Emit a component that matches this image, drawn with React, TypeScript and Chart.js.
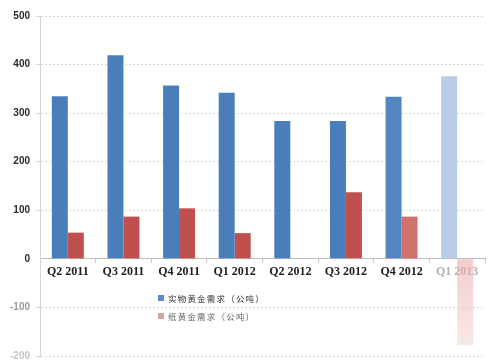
import React, { useEffect, useRef } from "react";
import { Chart, registerables } from "chart.js";

Chart.register(...registerables);

const categories = ["Q2 2011", "Q3 2011", "Q4 2011", "Q1 2012", "Q2 2012", "Q3 2012", "Q4 2012", "Q1 2013"];
const physicalDemand = [335, 419, 357, 342, 284, 284, 334, 376];
const paperDemand: (number | null)[] = [54, 87, 104, 53, null, 137, 87, -178];
const legendLabels = ["实物黄金需求（公吨）", "纸黄金需求（公吨）"];
const yMin = -200;
const yMax = 500;
const yStep = 100;

export default function App() {
  const ref = useRef<HTMLCanvasElement>(null);

  useEffect(() => {
    if (!ref.current) return;
    const last = categories.length - 1;
    const blueFill = (c: any) => {
      if (c.dataIndex === last) return "#B9CDE6";
      if (c.dataIndex === last - 1) return "#5585C0";
      return "#4A7EBB";
    };
    const redFill = (c: any) => {
      const chart = c.chart;
      const area = chart.chartArea;
      if (!area) return "#C0504D";
      if (c.dataIndex === last) {
        const y0 = chart.scales.y.getPixelForValue(0);
        const g = chart.ctx.createLinearGradient(0, y0, 0, area.bottom);
        g.addColorStop(0, "rgba(232,170,170,0.6)");
        g.addColorStop(1, "rgba(245,215,215,0.5)");
        return g;
      }
      if (c.dataIndex === last - 1) return "#D0716E";
      return "#C0504D";
    };

    const chart = new Chart(ref.current, {
      type: "bar",
      data: {
        labels: categories,
        datasets: [
          {
            label: legendLabels[0],
            data: physicalDemand,
            backgroundColor: blueFill,
            borderWidth: 0,
            categoryPercentage: 0.575,
            barPercentage: 1,
          },
          {
            label: legendLabels[1],
            data: paperDemand,
            backgroundColor: redFill,
            borderWidth: 0,
            categoryPercentage: 0.575,
            barPercentage: 1,
          },
        ],
      },
      options: {
        animation: false,
        responsive: false,
        maintainAspectRatio: false,
        layout: { padding: { left: 0, right: 11, top: 16, bottom: 0 } },
        plugins: {
          legend: { display: false },
          tooltip: { enabled: false },
        },
        scales: {
          x: {
            position: { y: 0 } as any,
            z: 1,
            grid: {
              offset: true,
              drawOnChartArea: false,
              drawTicks: true,
              tickLength: 4,
              color: "#C8C8C8",
            },
            border: { display: true, color: "#BDBDBD", width: 1 },
            ticks: {
              padding: 2,
              maxRotation: 0,
              font: { family: "'Liberation Serif', serif", weight: "bold", size: 12 },
              color: (c: any) => (c.index === categories.length - 1 ? "#B0B0B0" : "#1E1E1E"),
            },
          },
          y: {
            min: yMin,
            max: yMax,
            afterFit: (s: any) => {
              s.width = 40;
            },
            grid: {
              color: (c: any) => (c.tick && c.tick.value === 0 ? "rgba(0,0,0,0)" : "#D9D9D9"),
              drawTicks: true,
              tickLength: 4,
            },
            border: { display: true, color: "#D4D4D4", width: 1, dash: [2, 2] },
            ticks: {
              stepSize: yStep,
              padding: 6,
              font: { family: "'Liberation Sans', Arial, sans-serif", weight: "bold", size: 10 },
              color: (c: any) => {
                const v = c.tick.value;
                if (v === -100) return "#9A9A9A";
                if (v === -200) return "#C4C4C4";
                return "#2A2A2A";
              },
            },
          },
        },
      },
    });
    return () => chart.destroy();
  }, []);

  const legendStyle: React.CSSProperties = {
    position: "absolute",
    left: 158,
    fontFamily: "'Noto Sans CJK SC', sans-serif",
    fontSize: 8.5,
    letterSpacing: 1.2,
    lineHeight: "10px",
    display: "flex",
    alignItems: "center",
    whiteSpace: "nowrap",
  };
  const swatch = (color: string): React.CSSProperties => ({
    display: "inline-block",
    width: 6,
    height: 6,
    background: color,
    marginRight: 4,
  });

  return (
    <div style={{ position: "fixed", left: 0, top: 0, width: 496, height: 360, background: "#fff", overflow: "hidden" }}>
      <canvas ref={ref} width={496} height={368} style={{ display: "block" }} />
      <div style={{ ...legendStyle, top: 293, color: "#333" }}>
        <span style={swatch("#5B8AC6")} />
        {legendLabels[0]}
      </div>
      <div style={{ ...legendStyle, top: 311, color: "#666" }}>
        <span style={swatch("#D9A0A0")} />
        {legendLabels[1]}
      </div>
    </div>
  );
}
